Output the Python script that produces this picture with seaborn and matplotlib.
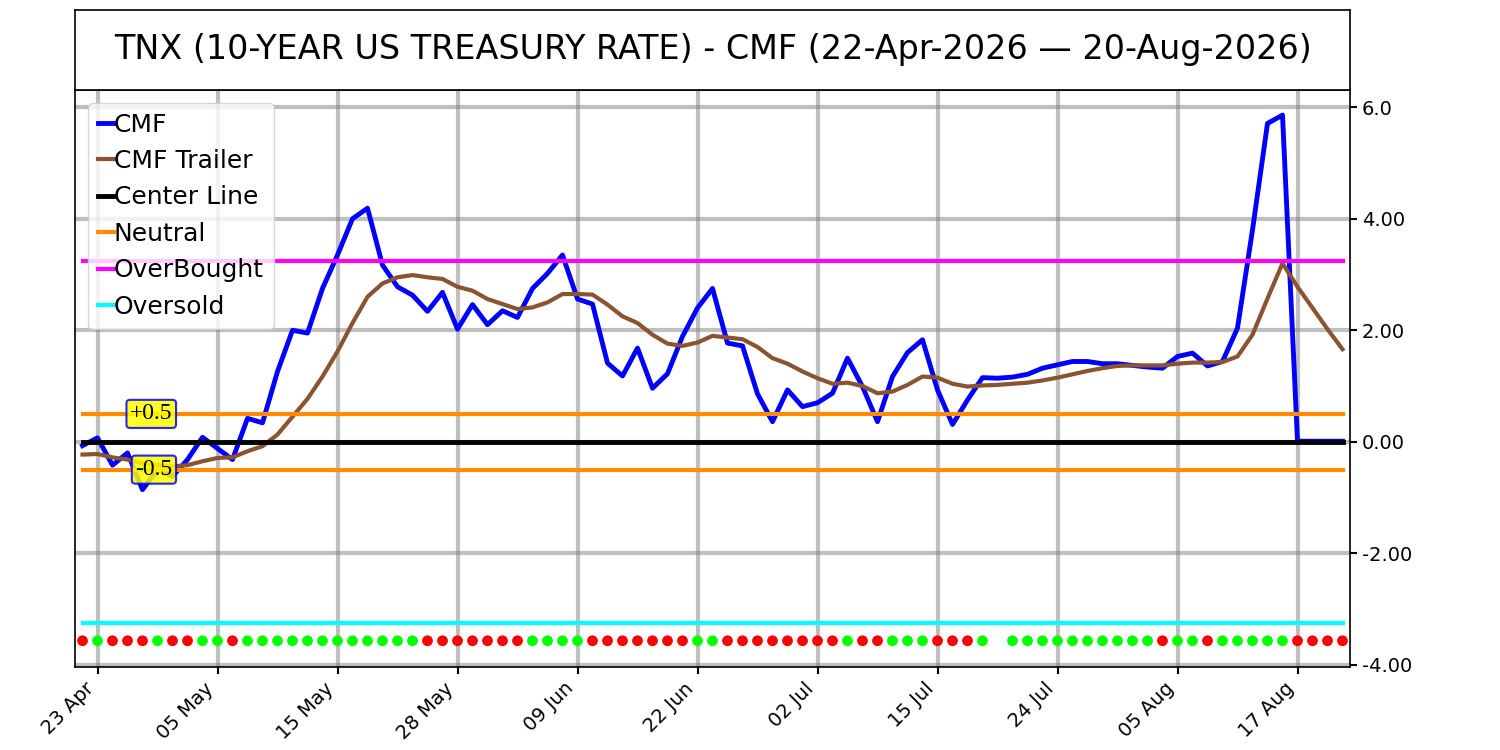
import numpy as np
import pandas as pd
import matplotlib
matplotlib.use("Agg")
import matplotlib.pyplot as plt
import seaborn as sns

title = "TNX (10-YEAR US TREASURY RATE) - CMF (22-Apr-2026 \u2014 20-Aug-2026)"

cmf = [-0.07, 0.07, -0.42, -0.20, -0.86, -0.50, -0.62, -0.32, 0.08, -0.12,
       -0.32, 0.42, 0.34, 1.26, 2.00, 1.95, 2.75, 3.35, 4.00, 4.19,
       3.17, 2.78, 2.63, 2.34, 2.68, 2.02, 2.46, 2.10, 2.35, 2.23,
       2.75, 3.02, 3.35, 2.56, 2.47, 1.41, 1.18, 1.68, 0.96, 1.22,
       1.89, 2.40, 2.75, 1.77, 1.72, 0.86, 0.36, 0.93, 0.63, 0.70,
       0.87, 1.50, 0.99, 0.36, 1.17, 1.60, 1.83, 0.93, 0.31, 0.75,
       1.15, 1.14, 1.16, 1.21, 1.32, 1.38, 1.44, 1.44, 1.40, 1.40,
       1.37, 1.34, 1.32, 1.53, 1.59, 1.36, 1.44, 2.04, 3.80, 5.71,
       5.86, 0.01, 0.01, 0.01, 0.01]

trailer = [-0.23, -0.22, -0.28, -0.32, -0.38, -0.42, -0.44, -0.42, -0.35, -0.29,
           -0.28, -0.17, -0.08, 0.13, 0.45, 0.77, 1.17, 1.62, 2.13, 2.60,
           2.84, 2.95, 2.99, 2.95, 2.92, 2.78, 2.71, 2.56, 2.47, 2.38,
           2.41, 2.50, 2.65, 2.65, 2.64, 2.46, 2.25, 2.13, 1.92, 1.76,
           1.72, 1.78, 1.90, 1.87, 1.84, 1.70, 1.50, 1.40, 1.26, 1.14,
           1.04, 1.06, 1.00, 0.87, 0.90, 1.02, 1.17, 1.15, 1.04, 0.99,
           1.01, 1.02, 1.04, 1.06, 1.10, 1.15, 1.21, 1.27, 1.32, 1.36,
           1.37, 1.37, 1.37, 1.40, 1.42, 1.42, 1.43, 1.53, 1.92, 2.57,
           3.20, 2.78, 2.40, 2.02, 1.66]

# R = red dot, G = green dot, blank = no dot
signal = ("RGRRRGRRGG" "RGGGGGGGGG" "GGGRRRRRRR" "GGGGRRRRRR" "RGGRRRRRRR"
          "RGRRGGGRRR" "G GGGGGGGG" "GGRGGRGGGG" "GRRRR")

center_level = 0.0
neutral_level = 0.5
overbought_level = 3.25
oversold_level = -3.25
signal_level = -3.57

date_labels = ["23 Apr", "05 May", "15 May", "28 May", "09 Jun", "22 Jun",
               "02 Jul", "15 Jul", "24 Jul", "05 Aug", "17 Aug"]
ytick_values = [6, 4, 2, 0, -2, -4]
ytick_labels = ["6.0", "4.00", "2.00", "0.00", "-2.00", "-4.00"]

n = len(cmf)
idx = np.arange(n)
df = pd.DataFrame({"idx": idx, "CMF": cmf, "Trailer": trailer})
dots = pd.DataFrame({"idx": idx, "sig": list(signal)})
dots = dots[dots["sig"] != " "]
dots["y"] = signal_level

fig = plt.figure(figsize=(15, 7.5), dpi=100)
ax = fig.add_axes([0.05, 0.1107, 0.85, 0.7693])
tax = fig.add_axes([0.05, 0.88, 0.85, 0.1067])
tax.set_xticks([])
tax.set_yticks([])
tax.text(0.5, 0.5, title, ha="center", va="center", fontsize=24)

ax.set_axisbelow(True)
ax.grid(True, color="gray", alpha=0.5, lw=3)

sns.lineplot(data=df, x="idx", y="CMF", ax=ax, color="blue", lw=3.5, label="CMF")
sns.lineplot(data=df, x="idx", y="Trailer", ax=ax, color="#8a5430", lw=3, label="CMF Trailer")
sns.lineplot(x=idx, y=np.full(n, center_level), ax=ax, color="black", lw=3.5, label="Center Line")
sns.lineplot(x=idx, y=np.full(n, neutral_level), ax=ax, color="darkorange", lw=3, label="Neutral")
sns.lineplot(x=idx, y=np.full(n, -neutral_level), ax=ax, color="darkorange", lw=3)
sns.lineplot(x=idx, y=np.full(n, overbought_level), ax=ax, color="magenta", lw=3, label="OverBought")
sns.lineplot(x=idx, y=np.full(n, oversold_level), ax=ax, color="cyan", lw=3, label="Oversold")
sns.scatterplot(data=dots, x="idx", y="y", hue="sig", palette={"R": "red", "G": "lime"},
                ax=ax, s=60, linewidth=0, legend=False, zorder=3)

box = dict(boxstyle="round,pad=0.15", fc="yellow", ec="blue", alpha=0.85, lw=1.5)
ax.text(6, neutral_level, "+0.5", ha="right", va="center", fontsize=17,
        family="Liberation Serif", bbox=box, zorder=5)
ax.text(6, -neutral_level, "-0.5", ha="right", va="center", fontsize=17,
        family="Liberation Serif", bbox=box, zorder=5)

ax.set_xlim(-0.5, n - 0.5)
ax.set_ylim(-4.04, 6.31)
ax.set_xticks(np.arange(1, n, 8))
ax.set_xticklabels(date_labels, rotation=45, ha="right", fontsize=14)
ax.yaxis.tick_right()
ax.set_yticks(ytick_values)
ax.set_yticklabels(ytick_labels, fontsize=14)
ax.tick_params(width=1.5, length=5)
ax.set_xlabel("")
ax.set_ylabel("")
for sp in list(ax.spines.values()) + list(tax.spines.values()):
    sp.set_linewidth(1.2)

ax.legend(loc="upper left", fontsize=18, handlelength=0.64, handletextpad=0.0,
          labelspacing=0.5, framealpha=0.8)

fig.savefig("out.png", dpi=100)
